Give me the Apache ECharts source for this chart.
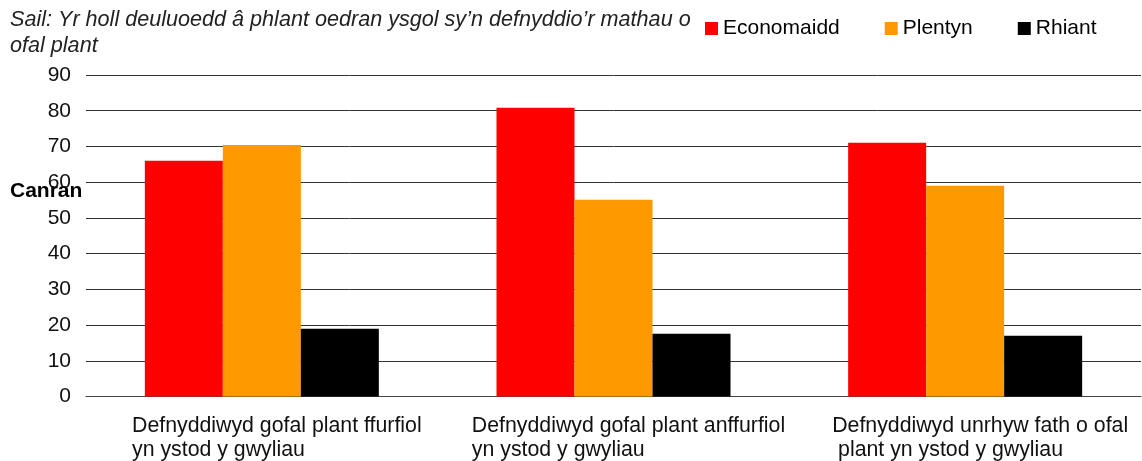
<!DOCTYPE html>
<html>
<head>
<meta charset="utf-8">
<script src="https://cdn.jsdelivr.net/npm/echarts@6/dist/echarts.min.js"></script>
<style>
  html, body { margin: 0; padding: 0; background: #fff; }
  #chart { width: 1142px; height: 461px; }
</style>
</head>
<body>
<div id="chart"></div>
<script>
// categories and values
const categories = [
  'Defnyddiwyd gofal plant ffurfiol\nyn ystod y gwyliau',
  'Defnyddiwyd gofal plant anffurfiol\nyn ystod y gwyliau',
  'Defnyddiwyd unrhyw fath o ofal\n plant yn ystod y gwyliau'
];
const economaidd = [66, 80.8, 71];
const plentyn = [70.4, 55.1, 59];
const rhiant = [19, 17.6, 17];
const seriesNames = ['Economaidd', 'Plentyn', 'Rhiant'];
const colours = ['#ff0000', '#ff9900', '#000000'];

const font = '"Liberation Sans", Arial, sans-serif';

const chart = echarts.init(document.getElementById('chart'));
chart.setOption({
  animation: false,
  textStyle: { fontFamily: font },
  color: colours,
  grid: { left: 86, right: 1, top: 75, bottom: 64, containLabel: false },
  legend: {
    data: seriesNames,
    left: 700, top: 13,
    itemWidth: 13, itemHeight: 13, itemGap: 45,
    icon: 'rect',
    textStyle: { fontSize: 21, color: '#000', fontFamily: font }
  },
  graphic: [
    {
      type: 'text', left: 10, top: 7,
      style: {
        text: 'Sail: Yr holl deuluoedd â phlant oedran ysgol sy’n defnyddio’r mathau o\nofal plant',
        font: 'italic 21.6px "Liberation Sans", Arial, sans-serif',
        lineHeight: 26, fill: '#222'
      }
    },
    {
      type: 'text', left: 10, top: 181,
      style: { text: 'Canran', font: 'bold 21px "Liberation Sans", Arial, sans-serif', fill: '#000' }
    }
  ],
  xAxis: {
    type: 'category',
    data: categories,
    axisLine: { lineStyle: { color: '#444', width: 1 } },
    axisTick: { show: false },
    axisLabel: {
      interval: 0,
      margin: 18,
      align: 'center',
      padding: [0, 0, 0, 30],
      formatter: v => '{a|' + v.split('\n').join('}\n{a|') + '}',
      rich: {
        a: { align: 'left', fontSize: 21.3, lineHeight: 24, color: '#111', fontFamily: font }
      }
    }
  },
  yAxis: {
    type: 'value',
    min: 0, max: 90, interval: 10,
    axisLine: { show: false },
    axisTick: { show: false },
    axisLabel: { fontSize: 21, color: '#111', margin: 15, fontFamily: font },
    splitLine: { lineStyle: { color: '#333', width: 1 } }
  },
  series: [
    { name: seriesNames[0], type: 'bar', data: economaidd, barWidth: 78, barGap: '0%' },
    { name: seriesNames[1], type: 'bar', data: plentyn, barWidth: 78, barGap: '0%' },
    { name: seriesNames[2], type: 'bar', data: rhiant, barWidth: 78, barGap: '0%' }
  ]
});
</script>
</body>
</html>
